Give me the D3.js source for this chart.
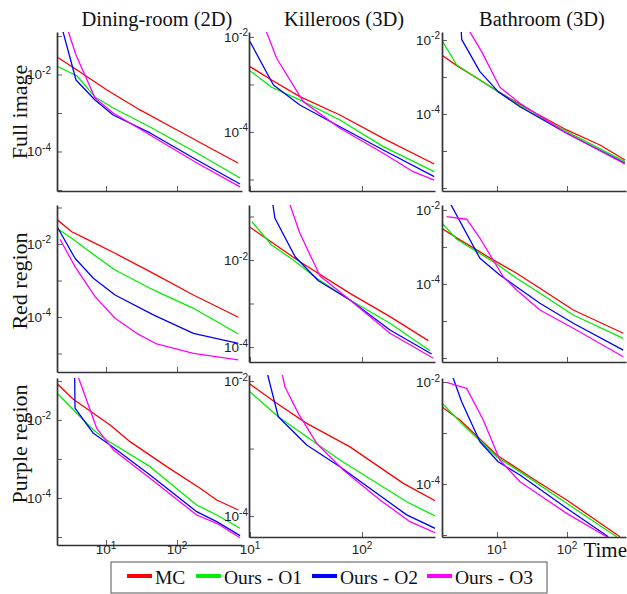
<!DOCTYPE html>
<html><head><meta charset="utf-8">
<script src="https://cdn.jsdelivr.net/npm/d3@7"></script>
<style>body{margin:0;background:#fff}svg{display:block}</style>
</head><body>
<svg id="chart" width="627" height="594"></svg>
<script>
const seriesNames = ["MC", "Ours - O1", "Ours - O2", "Ours - O3"];
const seriesColors = ["#ff0000", "#00ee00", "#0000ff", "#ff00ff"];
const columnTitles = ["Dining-room (2D)", "Killeroos (3D)", "Bathroom (3D)"];
const rowTitles = ["Full image", "Red region", "Purple region"];
const yLabelExponents = [-2, -4];
const xLabelExponents = [1, 2];
const xAxisTitle = "Time";

// [time, error] — Full image
const fullDiningMC = [[2.04,2.85e-2],[3.91,1.31e-2],[10.3,3.96e-3],[30.1,1.20e-3],[100,3.61e-4],[292,1.23e-4],[723,5.02e-5]];
const fullDiningO1 = [[2.04,1.66e-2],[3.91,9.14e-3],[7.0,2.61e-3],[12.6,1.35e-3],[41.7,4.33e-4],[191,9.14e-5],[771,2.05e-5]];
const fullDiningO2 = [[2.40,0.161],[3.78,7.2e-3],[7.0,2.18e-3],[12.6,8.87e-4],[41.7,3.03e-4],[191,6.01e-5],[771,1.43e-5]];
const fullDiningO3 = [[2.83,0.161],[3.78,3.2e-2],[7.0,2.45e-3],[12.6,1.0e-3],[41.7,2.68e-4],[191,5.02e-5],[771,1.20e-5]];

const fullKillerMC = [[10,2.37e-3],[15.6,1.24e-3],[27.9,5.53e-4],[63.6,2.28e-4],[155,7.36e-5],[442,2.12e-5]];
const fullKillerO1 = [[10,1.95e-3],[15.6,8.73e-4],[27.9,4.72e-4],[63.6,1.79e-4],[155,4.91e-5],[442,1.46e-5]];
const fullKillerO2 = [[10,7.96e-3],[16.2,9.76e-4],[27.9,3.70e-4],[63.6,1.29e-4],[155,4.18e-5],[442,1.15e-5]];
const fullKillerO3 = [[13.6,1.55e-2],[17.3,3.56e-3],[29.9,4.35e-4],[63.6,1.20e-4],[155,3.56e-5],[287,1.46e-5],[442,9.75e-6]];

const fullBathMC = [[1.62,3.94e-3],[2.80,1.90e-3],[5.71,8.30e-4],[10.4,4.01e-4],[29.6,1.28e-4],[99,3.70e-5],[296,1.45e-5],[674,5.71e-6]];
const fullBathO1 = [[1.62,1.0e-2],[2.66,2.11e-3],[5.71,8.30e-4],[10.4,4.01e-4],[29.6,1.15e-4],[99,3.33e-5],[674,5.14e-6]];
const fullBathO2 = [[3.06,2.54e-2],[3.13,1.04e-2],[5.71,1.39e-3],[10.4,4.01e-4],[21.3,1.57e-4],[99,3.01e-5],[674,4.66e-6]];
const fullBathO3 = [[3.79,2.11e-2],[6.04,4.83e-3],[11.0,5.27e-4],[21.3,1.95e-4],[99,3.01e-5],[674,4.46e-6]];

// Red region
const redDiningMC = [[2.02,4.75e-2],[3.29,2.17e-2],[6.30,1.16e-2],[13.4,5.56e-3],[46.4,1.57e-3],[170,4.01e-4],[730,9.82e-5]];
const redDiningO1 = [[2.02,2.69e-2],[3.29,1.43e-2],[6.30,5.56e-3],[13.4,1.94e-3],[46.4,5.50e-4],[170,1.73e-4],[730,3.42e-5]];
const redDiningO2 = [[2.02,3.11e-2],[3.66,4.06e-3],[6.63,1.15e-3],[13.4,4.01e-4],[46.4,1.14e-4],[170,3.57e-5],[730,1.90e-5]];
const redDiningO3 = [[2.25,1.35e-2],[3.66,2.39e-3],[7.0,3.60e-4],[13.4,9.20e-5],[27.0,3.57e-5],[51.8,1.82e-5],[170,1.01e-5],[730,6.64e-6]];

const redKillerMC = [[10,5.65e-2],[27.9,9.14e-3],[78.2,1.71e-3],[178,4.98e-4],[391,1.40e-4]];
const redKillerO1 = [[10.4,7.59e-2],[15.6,2.21e-2],[24.4,1.0e-2],[39.4,3.79e-3],[78.2,1.20e-3],[178,3.51e-4],[405,8.22e-5]];
const redKillerO2 = [[15.8,0.239],[16.7,9.1e-2],[25.3,1.19e-2],[40.8,3.34e-3],[78.2,1.20e-3],[178,2.46e-4],[419,6.90e-5]];
const redKillerO3 = [[22.0,0.239],[27.9,4.11e-2],[42.2,4.29e-3],[78.2,1.20e-3],[178,2.07e-4],[434,5.50e-5]];

const redBathMC = [[1.62,3.20e-3],[2.96,1.55e-3],[8.85,4.46e-4],[19.1,1.95e-4],[41.1,7.66e-5],[123,1.98e-5],[637,4.66e-6]];
const redBathO1 = [[1.62,4.54e-3],[2.66,1.61e-3],[8.85,4.01e-4],[19.1,1.43e-4],[41.1,5.61e-5],[123,1.45e-5],[637,3.40e-6]];
const redBathO2 = [[2.06,1.75e-2],[5.71,4.95e-4],[11.0,1.75e-4],[41.1,3.01e-5],[123,8.67e-6],[637,1.64e-6]];
const redBathO3 = [[1.91,6.59e-3],[3.69,5.61e-3],[5.71,1.72e-3],[12.3,1.57e-4],[19.1,6.89e-5],[41.1,1.98e-5],[123,6.35e-6],[637,1.08e-6]];

// Purple region
const purpleDiningMC = [[2.02,8.73e-2],[3.46,3.40e-2],[11.4,7.44e-3],[21.8,2.78e-3],[71.6,6.35e-4],[211,1.77e-4],[362,8.89e-5],[730,4.92e-5]];
const purpleDiningO1 = [[2.02,5.01e-2],[3.86,1.49e-2],[6.63,5.55e-3],[10.2,3.07e-3],[41.7,6.35e-4],[189,6.62e-5],[362,3.66e-5],[771,1.67e-5]];
const purpleDiningO2 = [[3.61,0.191],[3.66,2.0e-2],[6.63,4.56e-3],[11.4,2.29e-3],[41.7,3.89e-4],[189,4.46e-5],[362,2.47e-5],[771,1.08e-5]];
const purpleDiningO3 = [[3.74,0.191],[7.40,6.12e-3],[12.7,1.70e-3],[41.7,3.20e-4],[189,3.66e-5],[362,2.24e-5],[771,9.59e-6]];

const purpleKillerMC = [[10,9.03e-3],[17.3,4.68e-3],[32.1,2.36e-3],[78.2,1.06e-3],[234,3.05e-4],[449,1.69e-4]];
const purpleKillerO1 = [[10,6.93e-3],[17.9,2.96e-3],[32.1,1.50e-3],[63.6,6.76e-4],[251,1.63e-4],[449,1.0e-4]];
const purpleKillerO2 = [[14.4,1.23e-2],[17.9,2.96e-3],[32.1,1.13e-3],[63.6,5.37e-4],[251,1.04e-4],[449,6.58e-5]];
const purpleKillerO3 = [[19.5,1.23e-2],[20.5,8.23e-3],[27.0,3.32e-3],[39.4,1.19e-3],[68.1,4.80e-4],[145,1.73e-4],[268,8.24e-5],[449,5.66e-5]];

const purpleBathMC = [[1.62,3.28e-3],[2.96,1.80e-3],[9.9,3.71e-4],[29.6,1.39e-4],[99,4.85e-5],[571,9.27e-6]];
const purpleBathO1 = [[1.62,3.93e-3],[2.96,1.67e-3],[9.9,3.43e-4],[29.6,1.29e-4],[99,4.19e-5],[513,9.27e-6]];
const purpleBathO2 = [[2.31,1.31e-2],[3.13,4.11e-3],[5.71,6.75e-4],[10.4,2.74e-4],[21.3,1.50e-4],[99,3.34e-5],[389,9.27e-6]];
const purpleBathO3 = [[1.91,9.86e-3],[3.69,7.52e-3],[6.37,1.80e-3],[11.0,2.96e-4],[21.3,1.11e-4],[99,2.66e-5],[369,9.27e-6]];

const panelData = [
  [[fullDiningMC, fullDiningO1, fullDiningO2, fullDiningO3],
   [fullKillerMC, fullKillerO1, fullKillerO2, fullKillerO3],
   [fullBathMC, fullBathO1, fullBathO2, fullBathO3]],
  [[redDiningMC, redDiningO1, redDiningO2, redDiningO3],
   [redKillerMC, redKillerO1, redKillerO2, redKillerO3],
   [redBathMC, redBathO1, redBathO2, redBathO3]],
  [[purpleDiningMC, purpleDiningO1, purpleDiningO2, purpleDiningO3],
   [purpleKillerMC, purpleKillerO1, purpleKillerO2, purpleKillerO3],
   [purpleBathMC, purpleBathO1, purpleBathO2, purpleBathO3]]
];

// axis domains
const xDomains = [[2.04, 822], [9.8, 449], [1.64, 697]];
const yDomains = [
  [[9.4e-6, 0.127], [5.73e-6, 1.27e-2], [8.3e-7, 1.64e-2]],
  [[3.11e-6, 0.117], [4.52e-5, 0.184], [7.8e-7, 1.36e-2]],
  [[6.23e-6, 0.119], [4.89e-5, 1.23e-2], [9.14e-6, 1.2e-2]]
];

// layout (pixels)
const colPx = [[57, 242], [249, 435], [442, 626]];
const rowPx = [
  [[32, 191], [32, 191], [32, 191]],
  [[205, 372], [205, 362], [205, 362]],
  [[378, 545], [375, 537], [378, 537]]
];
const yLabelGap = [6, 1, 2];
const titleCenters = [157, 344, 542];
const rowTitleCenters = [112, 281, 444];

const svg = d3.select("#chart");
const serif = "'Liberation Serif','Times New Roman',serif";
const sans = "'Liberation Sans',Arial,sans-serif";
const axisColor = "#333";

function decades(lo, hi) {
  const out = [];
  for (let e = Math.floor(Math.log10(lo)); e <= Math.ceil(Math.log10(hi)); e++) out.push(e);
  return out;
}
function majorTicks(dom) {
  const [lo, hi] = [Math.min(...dom), Math.max(...dom)];
  return decades(lo, hi).map(e => Math.pow(10, e)).filter(v => v >= lo && v <= hi);
}
function minorTicks(dom) {
  const [lo, hi] = [Math.min(...dom), Math.max(...dom)];
  const out = [];
  decades(lo, hi).forEach(e => { for (let k = 2; k <= 9; k++) { const v = k * Math.pow(10, e); if (v >= lo && v <= hi) out.push(v); } });
  return out;
}
function supText(g, x, y, exp, anchor) {
  const t = g.append("text").attr("x", x).attr("y", y).attr("text-anchor", anchor)
    .attr("font-family", sans).attr("font-size", 13.5).attr("fill", "#222");
  t.append("tspan").text("10");
  t.append("tspan").attr("dy", -5.5).attr("font-size", 10).text(exp);
}

const defs = svg.append("defs");
const line = d3.line();

for (let r = 0; r < 3; r++) {
  for (let c = 0; c < 3; c++) {
    const [x0, x1] = colPx[c];
    const [y0, y1] = rowPx[r][c];
    const xs = d3.scaleLog().domain(xDomains[c]).range([x0, x1]);
    const ys = d3.scaleLog().domain(yDomains[r][c]).range([y1, y0]);
    const id = `clip-${r}-${c}`;
    defs.append("clipPath").attr("id", id).append("rect")
      .attr("x", x0).attr("y", y0).attr("width", x1 - x0).attr("height", y1 - y0);

    const g = svg.append("g");
    const lg = g.append("g").attr("clip-path", `url(#${id})`);
    panelData[r][c].forEach((series, i) => {
      lg.append("path")
        .attr("d", line.x(d => xs(d[0])).y(d => ys(d[1]))(series))
        .attr("fill", "none").attr("stroke", seriesColors[i])
        .attr("stroke-width", 1.3).attr("stroke-linejoin", "round");
    });

    const ax = g.append("g").attr("transform", `translate(0,${y1})`);
    ax.call(d3.axisBottom(xs).tickValues(minorTicks(xDomains[c])).tickSizeInner(-2.5).tickSizeOuter(0).tickFormat(""));
    ax.call(d3.axisBottom(xs).tickValues(majorTicks(xDomains[c])).tickSizeInner(-5).tickSizeOuter(0).tickFormat(""));
    const ay = g.append("g").attr("transform", `translate(${x0},0)`);
    ay.call(d3.axisLeft(ys).tickValues(minorTicks(yDomains[r][c])).tickSizeInner(-2.5).tickSizeOuter(0).tickFormat(""));
    ay.call(d3.axisLeft(ys).tickValues(majorTicks(yDomains[r][c])).tickSizeInner(-5).tickSizeOuter(0).tickFormat(""));
    g.selectAll(".domain").attr("stroke", axisColor).attr("stroke-width", 1.7);
    g.selectAll(".tick line").attr("stroke", axisColor).attr("stroke-width", 0.8);

    yLabelExponents.forEach(e => {
      const v = Math.pow(10, e);
      const [lo, hi] = yDomains[r][c];
      if (v >= lo && v <= hi) supText(g, x0 - yLabelGap[c], ys(v) + 5, String(e), "end");
    });
    if (r === 2) {
      xLabelExponents.forEach(e => {
        const v = Math.pow(10, e);
        supText(g, xs(v), 554, String(e), "middle");
      });
    }
  }
}

columnTitles.forEach((t, c) => {
  svg.append("text").attr("x", titleCenters[c]).attr("y", 26).attr("text-anchor", "middle")
    .attr("font-family", serif).attr("font-size", 20.5).attr("fill", "#111").text(t);
});
rowTitles.forEach((t, r) => {
  svg.append("text").attr("transform", `translate(27,${rowTitleCenters[r]}) rotate(-90)`)
    .attr("text-anchor", "middle").attr("font-family", serif).attr("font-size", 22).attr("fill", "#111").text(t);
});
svg.append("text").attr("x", 627).attr("y", 557).attr("text-anchor", "end")
  .attr("font-family", serif).attr("font-size", 21).attr("fill", "#111").text(xAxisTitle);

const leg = svg.append("g");
leg.append("rect").attr("x", 111).attr("y", 562).attr("width", 436).attr("height", 31)
  .attr("fill", "#fff").attr("stroke", "#555").attr("stroke-width", 1);
const legX = [127, 196, 312, 427];
seriesNames.forEach((n, i) => {
  leg.append("line").attr("x1", legX[i]).attr("x2", legX[i] + 25).attr("y1", 576).attr("y2", 576)
    .attr("stroke", seriesColors[i]).attr("stroke-width", 4);
  leg.append("text").attr("x", legX[i] + 28).attr("y", 584)
    .attr("font-family", serif).attr("font-size", 19.5).attr("fill", "#111").text(n);
});
</script>
</body></html>
